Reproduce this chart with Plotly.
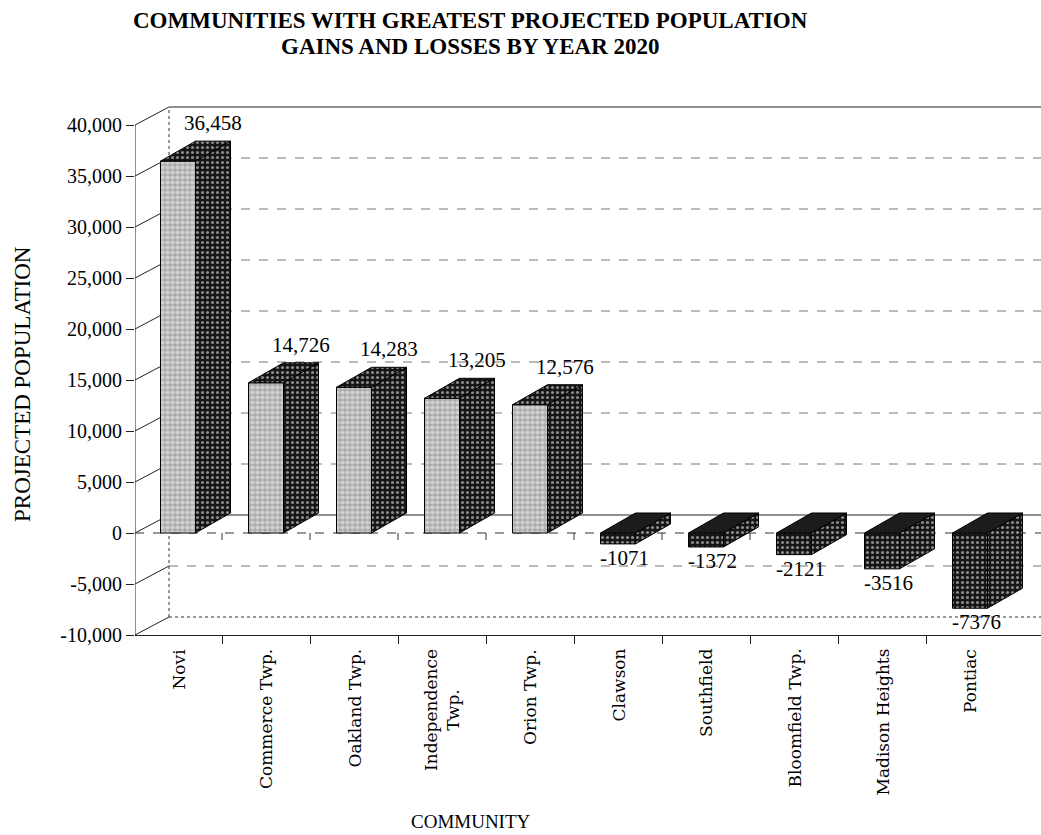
import plotly.graph_objects as go

# ---------------- data ----------------
communities = ["Novi", "Commerce Twp.", "Oakland Twp.", "Independence<br>Twp.", "Orion Twp.",
               "Clawson", "Southfield", "Bloomfield Twp.", "Madison Heights", "Pontiac"]
projected_change = [36458, 14726, 14283, 13205, 12576, -1071, -1372, -2121, -3516, -7376]
value_labels = ["36,458", "14,726", "14,283", "13,205", "12,576",
                "-1071", "-1372", "-2121", "-3516", "-7376"]
y_tick_values = [40000, 35000, 30000, 25000, 20000, 15000, 10000, 5000, 0, -5000, -10000]
y_tick_labels = ["40,000", "35,000", "30,000", "25,000", "20,000", "15,000",
                 "10,000", "5,000", "0", "-5,000", "-10,000"]
title_lines = ["COMMUNITIES WITH GREATEST PROJECTED POPULATION", "GAINS AND LOSSES BY YEAR 2020"]

# ---------------- geometry (pseudo-3D) ----------------
PX_PER_CAT = 88.0
Y_MIN, Y_MAX_TICK = -10000, 40000
UNITS_PER_PX = (Y_MAX_TICK - Y_MIN) / 510.0
X_LEFT = -43.0 / PX_PER_CAT
X_RIGHT = X_LEFT + 906.0 / PX_PER_CAT
Y_TOP = Y_MIN + 535 * UNITS_PER_PX
BAR_W = 35.0 / PX_PER_CAT
BAR_DX = 35.0 / PX_PER_CAT
BAR_DY = 20 * UNITS_PER_PX
WALL_DX = 34.0 / PX_PER_CAT
WALL_DY = 18 * UNITS_PER_PX

SERIF = "Liberation Serif, Times New Roman, serif"
LABEL_FONT = "DejaVu Serif, serif"

light_pat = dict(shape=".", bgcolor="#ababab", fgcolor="#f6f6f6", size=5, solidity=0.55)
dark_pat = dict(shape=".", bgcolor="#151515", fgcolor="#ffffff", size=5, solidity=0.3)

idx = list(range(len(communities)))
fig = go.Figure()

# ---------------- walls / gridlines as shapes below traces ----------------
shapes = []
back_x0 = X_LEFT + WALL_DX
for t in y_tick_values:
    if t == Y_MAX_TICK or t == 0:
        dash, col = "solid", "#222"
    elif t == Y_MIN:
        dash, col = "dot", "#333"
    else:
        dash, col = "dash", "#777"
    shapes.append(dict(type="line", xref="x", yref="y", layer="below",
                       x0=back_x0, x1=X_RIGHT, y0=t + WALL_DY, y1=t + WALL_DY,
                       line=dict(color=col, width=1, dash=dash)))
    shapes.append(dict(type="line", xref="x", yref="y", layer="below",
                       x0=X_LEFT, x1=back_x0, y0=t, y1=t + WALL_DY,
                       line=dict(color="#222", width=1)))
shapes.append(dict(type="line", xref="x", yref="y", layer="below",
                   x0=back_x0, x1=back_x0, y0=Y_MIN + WALL_DY, y1=Y_MAX_TICK + WALL_DY,
                   line=dict(color="#333", width=1, dash="dot")))
shapes.append(dict(type="line", xref="x", yref="y", layer="below",
                   x0=X_LEFT, x1=X_LEFT, y0=Y_MIN, y1=Y_MAX_TICK,
                   line=dict(color="#222", width=1)))
shapes.append(dict(type="line", xref="x", yref="y", layer="below",
                   x0=X_LEFT, x1=X_RIGHT, y0=0, y1=0,
                   line=dict(color="#333", width=1, dash="dash")))
for i in idx[:-1]:
    b = i + 0.5
    shapes.append(dict(type="line", xref="x", yref="y", layer="below",
                       x0=b, x1=b, y0=0, y1=-7 * UNITS_PER_PX,
                       line=dict(color="#333", width=1)))

# ---------------- bars ----------------
for i, v in zip(idx, projected_change):
    l = i - BAR_W / 2
    r = i + BAR_W / 2
    if v >= 0:
        side_y = [0, BAR_DY, v + BAR_DY, v, 0]
        top_y = [v, v, v + BAR_DY, v + BAR_DY, v]
        top_fill = dict(fillcolor=dark_pat["bgcolor"], fillpattern=dark_pat)
    else:
        side_y = [v, v + BAR_DY, BAR_DY, 0, v]
        top_y = [0, 0, BAR_DY, BAR_DY, 0]
        top_fill = dict(fillcolor="#1c1c1c")
    side_x = [r, r + BAR_DX, r + BAR_DX, r, r]
    top_x = [l, r, r + BAR_DX, l + BAR_DX, l]
    fig.add_trace(go.Scatter(x=side_x, y=side_y, mode="lines", fill="toself",
                             fillcolor=dark_pat["bgcolor"], fillpattern=dark_pat,
                             line=dict(color="black", width=1), hoverinfo="skip"))
    fig.add_trace(go.Scatter(x=top_x, y=top_y, mode="lines", fill="toself",
                             line=dict(color="black", width=1), hoverinfo="skip", **top_fill))

pos_i = [i for i, v in zip(idx, projected_change) if v >= 0]
pos_v = [v for v in projected_change if v >= 0]
neg_i = [i for i, v in zip(idx, projected_change) if v < 0]
neg_v = [v for v in projected_change if v < 0]
fig.add_trace(go.Bar(x=pos_i, y=pos_v, width=BAR_W,
                     marker=dict(color=light_pat["bgcolor"], pattern=light_pat,
                                 line=dict(color="black", width=1)), hoverinfo="skip"))
fig.add_trace(go.Bar(x=neg_i, y=neg_v, width=BAR_W,
                     marker=dict(color=dark_pat["bgcolor"], pattern=dark_pat,
                                 line=dict(color="black", width=1)), hoverinfo="skip"))

# ---------------- annotations ----------------
ann = []
for i, v, lab in zip(idx, projected_change, value_labels):
    if v >= 0:
        ann.append(dict(x=i + BAR_DX, y=v + BAR_DY, xref="x", yref="y", text=lab,
                        showarrow=False, yanchor="middle", xanchor="center", yshift=18,
                        font=dict(family=SERIF, size=21, color="black")))
    else:
        ann.append(dict(x=i, y=v, xref="x", yref="y", text=lab,
                        showarrow=False, yanchor="middle", xanchor="center", yshift=-14, xshift=6,
                        font=dict(family=SERIF, size=21, color="black")))
for i, name in zip(idx, communities):
    ann.append(dict(x=i, y=Y_MIN, xref="x", yref="y", text=name, textangle=-90,
                    showarrow=False, yanchor="top", xanchor="center", yshift=-12, align="center",
                    font=dict(family=LABEL_FONT, size=17, color="black")))
ann.append(dict(x=0, xref="paper", y=Y_MIN + (635 - 384) * UNITS_PER_PX, yref="y",
                text="PROJECTED POPULATION", textangle=-90, showarrow=False,
                xanchor="center", yanchor="middle", xshift=-113,
                font=dict(family=SERIF, size=23, color="black")))
ann.append(dict(x=(471 - 135) / 906, xref="paper", y=0, yref="paper",
                text="COMMUNITY", showarrow=False, xanchor="center", yanchor="middle",
                yshift=-(821 - 635),
                font=dict(family=SERIF, size=19, color="black")))
for line, cy in zip(title_lines, [20, 46]):
    ann.append(dict(x=(470 - 135) / 906, xref="paper", y=1, yref="paper",
                    text="<b>" + line + "</b>", showarrow=False,
                    xanchor="center", yanchor="middle", yshift=100 - cy,
                    font=dict(family=SERIF, size=23, color="black")))

fig.update_layout(
    width=1041, height=835,
    margin=dict(l=135, r=0, t=100, b=200),
    paper_bgcolor="white", plot_bgcolor="white",
    showlegend=False, barmode="overlay",
    shapes=shapes, annotations=ann,
)
fig.update_xaxes(range=[X_LEFT, X_RIGHT], showgrid=False, zeroline=False,
                 showline=True, linecolor="#222", linewidth=1,
                 showticklabels=False, ticks="",
                 minor=dict(tickmode="array", tickvals=[i + 0.5 for i in idx[:-1]],
                            ticks="outside", ticklen=8, tickcolor="#222", showgrid=False))
fig.update_yaxes(range=[Y_MIN, Y_TOP], showgrid=False, zeroline=False, showline=False,
                 tickmode="array", tickvals=y_tick_values, ticktext=y_tick_labels,
                 ticks="outside", ticklen=8, tickcolor="#222",
                 tickfont=dict(family=SERIF, size=20, color="black"))

fig.write_html("out.html")
